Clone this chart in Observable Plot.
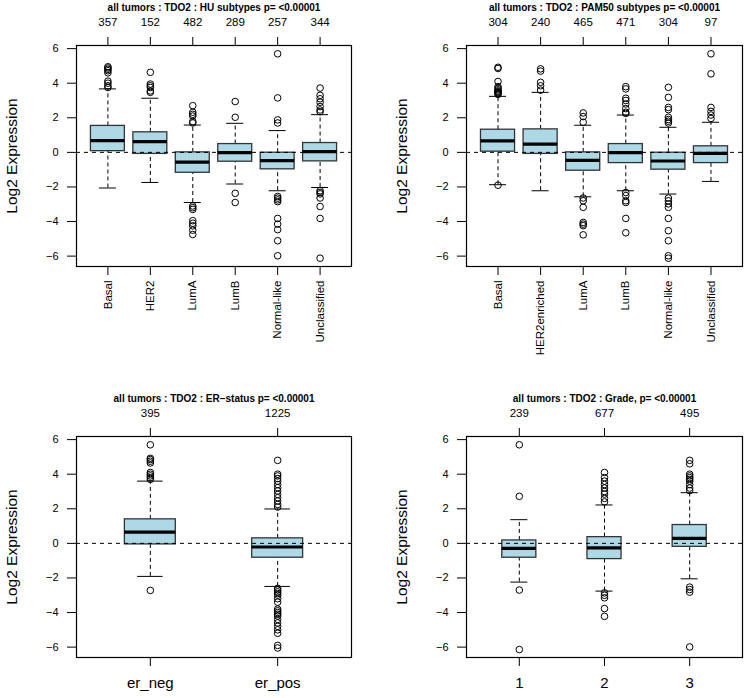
<!DOCTYPE html>
<html><head><meta charset="utf-8">
<script src="https://cdn.jsdelivr.net/npm/d3@7"></script>
<script src="https://cdn.jsdelivr.net/npm/@observablehq/plot@0.6"></script>
<style>
body{margin:0;background:#fff}
#chart{position:relative;width:744px;height:698px;font-family:"Liberation Sans",Arial,sans-serif}
#chart svg{position:absolute;overflow:visible}
</style></head><body><div id="chart"></div>
<script>
// ---- Panel 1: HU subtypes ----
const huTitle = "all tumors : TDO2 : HU subtypes p= <0.00001";
const huGroups = ["Basal","HER2","LumA","LumB","Normal-like","Unclassified"];
const huCounts = [357,152,482,289,257,344];
const huQ1  = [0.07,-0.09,-1.18,-0.54,-0.98,-0.52];
const huMed = [0.68,0.62,-0.56,-0.02,-0.48,0.04];
const huQ3  = [1.53,1.16,0.0,0.48,-0.02,0.54];
const huLo  = [-2.06,-1.74,-2.9,-1.83,-2.22,-2.03];
const huHi  = [3.67,3.13,1.58,1.68,1.26,2.18];
const huOut = [
  [4.95,4.88,4.8,4.72,4.6,4.12,4.0,3.85,3.75],
  [4.63,3.95,3.85,3.75,3.55,3.47],
  [2.7,2.32,2.2,2.1,1.78,1.7,-3.1,-3.2,-3.3,-3.95,-4.1,-4.25,-4.5,-4.75],
  [2.94,2.03,-2.37,-2.9],
  [5.7,3.15,1.88,1.7,-2.55,-2.65,-2.75,-2.85,-3.82,-4.15,-4.47,-5.11,-5.98],
  [3.72,3.3,3.1,2.9,2.65,2.45,2.35,-2.22,-2.32,-2.4,-2.64,-3.13,-3.82,-6.12]
];
// ---- Panel 2: PAM50 subtypes ----
const pamTitle = "all tumors : TDO2 : PAM50 subtypes p= <0.00001";
const pamGroups = ["Basal","HER2enriched","LumA","LumB","Normal-like","Unclassified"];
const pamCounts = [304,240,465,471,304,97];
const pamQ1  = [0.04,-0.09,-1.06,-0.62,-1.0,-0.62];
const pamMed = [0.66,0.48,-0.46,-0.02,-0.5,-0.06];
const pamQ3  = [1.31,1.33,0.0,0.48,-0.02,0.35];
const pamLo  = [-1.87,-2.22,-2.57,-2.22,-2.41,-1.68];
const pamHi  = [3.24,3.47,1.57,2.16,1.45,1.74];
const pamOut = [
  [4.92,4.85,4.1,3.8,3.7,3.62,3.55,3.5,3.45,3.4,3.35,-1.9],
  [4.83,4.7,4.05,3.85,3.6],
  [2.28,2.07,1.74,-2.64,-2.8,-3.18,-4.05,-4.15,-4.24,-4.77],
  [3.8,3.67,3.13,3.0,2.8,2.53,2.32,2.25,-2.32,-2.5,-2.8,-2.9,-3.82,-4.65],
  [3.76,3.18,2.6,2.47,2.03,1.9,1.8,1.7,-2.64,-2.8,-2.98,-3.18,-3.82,-4.53,-5.11,-5.98,-6.12],
  [5.7,4.54,2.6,2.37,2.16,1.96]
];
// ---- Panel 3: ER status ----
const erTitle = "all tumors : TDO2 : ER\u2212status p= <0.00001";
const erGroups = ["er_neg","er_pos"];
const erCounts = [395,1225];
const erQ1  = [-0.06,-0.83];
const erMed = [0.65,-0.21];
const erQ3  = [1.39,0.29];
const erLo  = [-1.91,-2.49];
const erHi  = [3.6,1.99];
const erOut = [
  [5.7,4.92,4.85,4.75,4.65,4.1,4.0,3.9,3.8,3.7,-2.72],
  [4.8,4.0,3.9,3.75,3.6,3.4,3.22,3.03,2.83,2.64,2.45,2.25,2.1,-2.6,-2.7,-2.8,-2.9,-3.0,-3.2,-3.4,-3.8,-3.9,-4.0,-4.1,-4.2,-4.4,-4.6,-4.8,-5.0,-5.2,-5.9,-6.05]
];
// ---- Panel 4: Grade ----
const grTitle = "all tumors : TDO2 : Grade, p= <0.00001";
const grGroups = ["1","2","3"];
const grCounts = [239,677,495];
const grQ1  = [-0.83,-0.91,-0.2];
const grMed = [-0.29,-0.26,0.29];
const grQ3  = [0.17,0.36,1.06];
const grLo  = [-2.24,-2.76,-2.05];
const grHi  = [1.37,2.22,2.93];
const grOut = [
  [5.7,2.72,-2.7,-6.14],
  [4.1,3.8,3.6,3.4,3.2,3.0,2.85,2.6,2.4,-2.86,-3.0,-3.15,-3.77,-4.22],
  [4.8,4.6,4.0,3.9,3.8,3.7,3.6,3.4,3.2,3.05,-2.53,-2.67,-2.82,-5.99]
];
const yTicks = [-6,-4,-2,0,2,4,6];

const FONT = '"Liberation Sans", Arial, sans-serif';

function panel(o) {
  const n = o.groups.length;
  const idx = d3.range(1, n + 1);
  const stats = idx.map((i) => ({i, q1: o.q1[i-1], med: o.med[i-1], q3: o.q3[i-1], lo: o.lo[i-1], hi: o.hi[i-1]}));
  const outs = o.out.flatMap((arr, k) => arr.map(v => ({i: k + 1, v})));
  const bw = o.boxWidth;
  const svg = Plot.plot({
    width: o.width, height: o.height,
    marginLeft: o.mL, marginRight: o.mR, marginTop: 45, marginBottom: o.mB,
    x: {domain: [0.5 - 0.04 * n, n + 0.5 + 0.04 * n]},
    y: {domain: [-6.6, 6.18]},
    style: {fontFamily: FONT, color: "black", background: "transparent", overflow: "visible"},
    marks: [
      Plot.ruleX(stats, {x: "i", y1: "q3", y2: "hi", stroke: "black", strokeDasharray: "4,3"}),
      Plot.ruleX(stats, {x: "i", y1: "lo", y2: "q1", stroke: "black", strokeDasharray: "4,3"}),
      Plot.ruleY(stats, {y: "hi", x1: d => d.i - bw / 4, x2: d => d.i + bw / 4, stroke: "black"}),
      Plot.ruleY(stats, {y: "lo", x1: d => d.i - bw / 4, x2: d => d.i + bw / 4, stroke: "black"}),
      Plot.rect(stats, {x1: d => d.i - bw / 2, x2: d => d.i + bw / 2, y1: "q1", y2: "q3", fill: "#ADD8E6", stroke: "#333", strokeWidth: 1.3}),
      Plot.ruleY(stats, {y: "med", x1: d => d.i - bw / 2, x2: d => d.i + bw / 2, stroke: "black", strokeWidth: 3.2}),
      Plot.dot(outs, {x: "i", y: "v", r: 3.3, stroke: "black", fill: "none", strokeWidth: 1}),
      Plot.ruleY([0], {stroke: "black", strokeDasharray: "4,4"}),
      Plot.frame({stroke: "black", strokeWidth: 1.2}),
      Plot.axisY(yTicks, {tickSize: 9, tickPadding: 9, fontSize: 11, label: null, stroke: "black"}),
      Plot.axisX(idx, {anchor: "bottom", tickSize: 9, tickPadding: o.rotate ? 5 : 11,
        tickRotate: o.rotate ? -90 : 0, fontSize: o.labelSize,
        tickFormat: i => o.groups[i-1], label: null}),
      Plot.axisX(idx, {anchor: "top", tickSize: 9, tickPadding: 11, fontSize: 11.5,
        tickFormat: i => String(o.counts[i-1]), label: null}),
      Plot.text([o.title], {frameAnchor: "top", dy: -38, fontWeight: "bold", fontSize: 10, lineAnchor: "middle"}),
      Plot.text(["Log2 Expression"], {frameAnchor: "left", dx: -64, rotate: -90, fontSize: 15.5, textAnchor: "middle", lineAnchor: "middle"})
    ]
  });
  svg.style.left = o.left + "px";
  svg.style.top = o.top + "px";
  document.getElementById("chart").appendChild(svg);
}

panel({title: huTitle, groups: huGroups, counts: huCounts, q1: huQ1, med: huMed, q3: huQ3, lo: huLo, hi: huHi, out: huOut,
  boxWidth: 0.8, rotate: true, labelSize: 11.5, left: 0, top: 0, width: 372, height: 349, mL: 76, mR: 21, mB: 83});
panel({title: pamTitle, groups: pamGroups, counts: pamCounts, q1: pamQ1, med: pamMed, q3: pamQ3, lo: pamLo, hi: pamHi, out: pamOut,
  boxWidth: 0.8, rotate: true, labelSize: 11.5, left: 372, top: 0, width: 372, height: 349, mL: 94, mR: 2, mB: 83});
panel({title: erTitle, groups: erGroups, counts: erCounts, q1: erQ1, med: erMed, q3: erQ3, lo: erLo, hi: erHi, out: erOut,
  boxWidth: 0.4, rotate: false, labelSize: 15, left: 0, top: 391, width: 372, height: 307, mL: 76, mR: 21, mB: 41});
panel({title: grTitle, groups: grGroups, counts: grCounts, q1: grQ1, med: grMed, q3: grQ3, lo: grLo, hi: grHi, out: grOut,
  boxWidth: 0.4, rotate: false, labelSize: 15, left: 372, top: 391, width: 372, height: 307, mL: 94, mR: 2, mB: 41});
</script></body></html>
